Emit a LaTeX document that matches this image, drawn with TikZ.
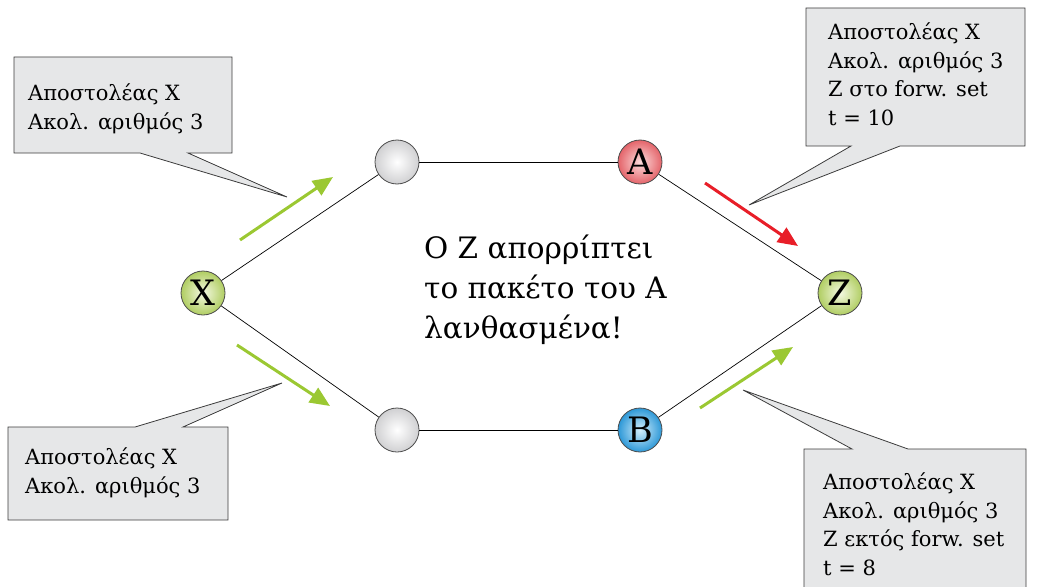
\documentclass[tikz,border=0pt]{standalone}
\usepackage{fontspec}
\setmainfont{DejaVu Serif}
\usetikzlibrary{arrows.meta}
\definecolor{boxfill}{RGB}{230,231,232}
\definecolor{boxline}{RGB}{60,60,60}
\definecolor{arrgreen}{RGB}{155,200,50}
\definecolor{arrred}{RGB}{232,30,40}
\definecolor{gout}{RGB}{208,208,210}
\definecolor{aout}{RGB}{228,100,106}
\definecolor{ain}{RGB}{252,220,220}
\definecolor{bout}{RGB}{45,152,215}
\definecolor{bin}{RGB}{210,238,252}
\definecolor{xout}{RGB}{176,205,98}
\definecolor{xin}{RGB}{244,249,226}
\tikzset{
  netnode/.style={circle, draw=black!70, line width=0.8pt, minimum size=44pt, inner sep=0pt,
    font=\fontsize{35}{35}\selectfont},
  plain/.style={netnode, inner color=white, outer color=gout},
  nodeA/.style={netnode, inner color=ain, outer color=aout},
  nodeB/.style={netnode, inner color=bin, outer color=bout},
  nodeXZ/.style={netnode, inner color=xin, outer color=xout},
  link/.style={draw=black, line width=0.7pt},
  flow/.style={line width=3pt, -{Triangle[length=20pt,width=17pt]}},
  callout/.style={fill=boxfill, draw=boxline, line width=0.8pt, line join=miter},
  boxtext/.style={anchor=base west, inner sep=0pt, align=left, font=\fontsize{21}{28.5}\selectfont},
}
\begin{document}
\begin{tikzpicture}[x=1pt,y=-1pt]
\useasboundingbox (0,0) rectangle (1038,586);
% callouts
\draw[callout] (14,57) -- (232,57) -- (232,153) -- (188,153) -- (287,197) -- (140,153) -- (14,153) -- cycle;
\draw[callout] (806,8) -- (1025,8) -- (1025,146) -- (900,146) -- (749,205) -- (851,146) -- (806,146) -- cycle;
\draw[callout] (8,427) -- (135,427) -- (282,383) -- (183,427) -- (228,427) -- (228,520) -- (8,520) -- cycle;
\draw[callout] (804,449) -- (852,449) -- (743,390) -- (908,449) -- (1026,449) -- (1026,600) -- (804,600) -- cycle;
% (base anchor = baseline of the last line)
\node[boxtext] (t1) at (28,129) {Αποστολέας Χ\\Ακολ. αριθμός 3};
\node[boxtext] (t2) at (828,125) {Αποστολέας Χ\\Ακολ. αριθμός 3\\Ζ στο forw. set\\t = 10};
\node[boxtext] (t3) at (25,493) {Αποστολέας Χ\\Ακολ. αριθμός 3};
\node[boxtext] (t4) at (823,575) {Αποστολέας Χ\\Ακολ. αριθμός 3\\Ζ εκτός forw. set\\t = 8};
% nodes
\node[nodeXZ] (X) at (203,293) {X};
\node[plain] (U) at (397,162) {};
\node[nodeA] (A) at (640,162) {A};
\node[nodeXZ] (Z) at (840,293) {Z};
\node[plain] (L) at (397,430) {};
\node[nodeB] (B) at (640,430) {B};
\draw[link] (X) -- (U);
\draw[link] (U) -- (A);
\draw[link] (A) -- (Z);
\draw[link] (X) -- (L);
\draw[link] (L) -- (B);
\draw[link] (B) -- (Z);
% flow arrows
\coordinate (g1s) at (240,240); \coordinate (g1e) at (333,177);
\coordinate (g2s) at (237,345); \coordinate (g2e) at (330,406);
\coordinate (g3s) at (700,408); \coordinate (g3e) at (793,347);
\coordinate (r1s) at (705,183); \coordinate (r1e) at (798,246);
\draw[flow, arrgreen] (g1s) -- (g1e);
\draw[flow, arrgreen] (g2s) -- (g2e);
\draw[flow, arrgreen] (g3s) -- (g3e);
\draw[flow, arrred] (r1s) -- (r1e);
% centre text
\node[anchor=base west, inner sep=0pt, align=left, font=\fontsize{29.5}{40}\selectfont] (msg) at (424,338)
  {Ο Ζ απορρίπτει\\το πακέτο του Α\\λανθασμένα!};
\end{tikzpicture}
\end{document}
